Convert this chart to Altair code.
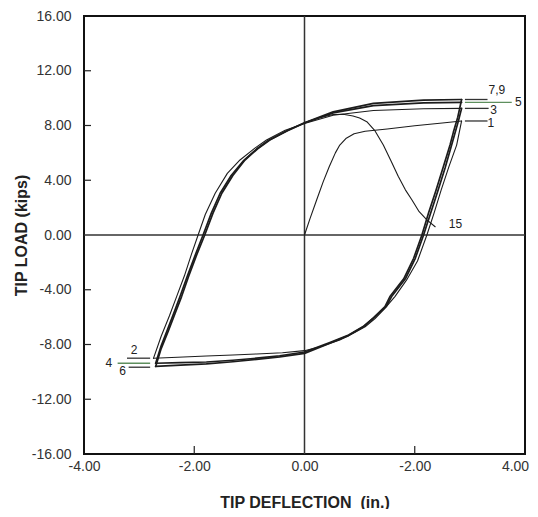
import altair as alt
import pandas as pd

# ---------------- data ----------------
# half-cycle 1 (first push, positive)
c1_x = [0.0, 0.1, 0.22, 0.34, 0.45, 0.56, 0.64, 0.75, 0.9, 1.1, 1.5, 2.0, 2.5, 2.85]
c1_y = [0.0, 1.2, 2.56, 3.9, 5.0, 6.0, 6.57, 7.05, 7.4, 7.58, 7.75, 7.98, 8.18, 8.33]
# half-cycle 2 (negative, outer thin)
c2_x = [2.85, 2.76, 2.62, 2.48, 2.35, 2.22, 2.05, 1.85, 1.64, 1.45, 1.28, 1.1, 0.9, 0.64, 0.3, 0.0,
        -0.4, -0.87, -1.3, -1.78, -2.3, -2.74]
c2_y = [8.33, 6.57, 5.0, 3.3, 1.6, 0.0, -1.9, -3.3, -4.5, -5.4, -6.1, -6.7, -7.15, -7.67, -8.15, -8.45,
        -8.6, -8.69, -8.77, -8.84, -8.93, -9.01]
# half-cycle 3 (positive, outer thin)
c3_x = [-2.74, -2.6, -2.45, -2.32, -2.18, -2.05, -1.93, -1.8, -1.62, -1.4, -1.17, -0.9, -0.69, -0.35,
        0.0, 0.52, 1.25, 2.16, 2.85]
c3_y = [-9.01, -7.4, -5.9, -4.5, -3.0, -1.4, 0.0, 1.5, 3.05, 4.5, 5.48, 6.35, 6.94, 7.65,
        8.15, 8.75, 9.1, 9.22, 9.25]
# half-cycle 4 (negative)
c4_x = [2.85, 2.79, 2.72, 2.66, 2.55, 2.41, 2.28, 2.16, 2.01, 1.83, 1.58, 1.48, 1.27, 1.08, 0.8, 0.46,
        0.0, -0.45, -0.87, -1.3, -1.78, -2.25, -2.70]
c4_y = [9.25, 8.3, 7.3, 6.45, 4.9, 3.1, 1.5, 0.0, -1.7, -3.2, -4.5, -5.24, -6.0, -6.65, -7.3, -7.85,
        -8.55, -8.82, -9.0, -9.15, -9.28, -9.33, -9.37]
# half-cycle 5 (positive)
c5_x = [-2.70, -2.6, -2.48, -2.36, -2.25, -2.12, -1.98, -1.84, -1.69, -1.53, -1.33, -1.1, -0.87, -0.65,
        -0.31, 0.0, 0.52, 1.25, 2.16, 2.85]
c5_y = [-9.37, -8.1, -6.85, -5.6, -4.4, -2.95, -1.45, 0.0, 1.6, 3.05, 4.35, 5.45, 6.28, 6.92,
        7.62, 8.18, 8.92, 9.45, 9.65, 9.69]
# half-cycles 6, 8 (negative)
c6_x = [2.85, 2.78, 2.7, 2.64, 2.52, 2.38, 2.25, 2.13, 1.98, 1.8, 1.55, 1.46, 1.25, 1.07, 0.8, 0.46,
        0.0, -0.45, -0.87, -1.3, -1.78, -2.25, -2.70]
c6_y = [9.9, 8.6, 7.5, 6.57, 5.0, 3.2, 1.6, 0.0, -1.7, -3.2, -4.5, -5.24, -6.05, -6.7, -7.35, -7.91,
        -8.65, -8.9, -9.08, -9.26, -9.42, -9.5, -9.6]
# half-cycles 7, 9 (positive)
c7_x = [-2.70, -2.6, -2.47, -2.35, -2.23, -2.1, -1.96, -1.81, -1.66, -1.5, -1.3, -1.08, -0.85, -0.63,
        -0.3, 0.0, 0.52, 1.25, 2.16, 2.85]
c7_y = [-9.6, -8.3, -7.0, -5.75, -4.5, -3.0, -1.5, 0.0, 1.6, 3.05, 4.35, 5.48, 6.3, 6.94,
        7.65, 8.2, 9.0, 9.62, 9.86, 9.9]
# half-cycle 15 (degrading)
c15_x = [0.0, 0.25, 0.52, 0.7, 0.88, 1.0, 1.13, 1.28, 1.43, 1.57, 1.7, 1.83, 1.95, 2.08, 2.22, 2.37]
c15_y = [8.2, 8.55, 8.8, 8.82, 8.7, 8.55, 8.28, 7.6, 6.57, 5.4, 4.3, 3.3, 2.56, 1.7, 1.1, 0.6]

series_names = ["1", "2", "3", "4", "5", "6", "7", "15"]
series_x = [c1_x, c2_x, c3_x, c4_x, c5_x, c6_x, c7_x, c15_x]
series_y = [c1_y, c2_y, c3_y, c4_y, c5_y, c6_y, c7_y, c15_y]
series_w = [1.1, 1.1, 1.1, 1.7, 1.7, 1.7, 1.7, 1.1]

# peak label leader lines and texts
lab_x1 = [2.91, 2.91, 2.91, 2.91, -3.22, -3.39, -3.19]
lab_x2 = [3.32, 3.76, 3.34, 3.32, -2.80, -2.80, -2.80]
lab_y = [9.9, 9.69, 9.25, 8.33, -9.0, -9.37, -9.66]
lab_col = ["#333333", "#5e8f5e", "#333333", "#333333", "#333333", "#5e8f5e", "#333333"]
txt = ["7,9", "5", "3", "1", "2", "4", "6", "15"]
txt_x = [3.49, 3.88, 3.43, 3.38, -3.09, -3.55, -3.30, 2.74]
txt_y = [10.6, 9.69, 9.1, 8.2, -8.39, -9.36, -9.97, 0.8]

x_ticks = [-4, -2, 0, 2, 4]
y_ticks = [-16, -12, -8, -4, 0, 4, 8, 12, 16]
x_inner = [-2, 2]
y_inner = [-12, -8, -4, 4, 8, 12]

# ---------------- tables ----------------
rows = []
for name, xs, ys, w in zip(series_names, series_x, series_y, series_w):
    for i, (a, b) in enumerate(zip(xs, ys)):
        rows.append({"s": name, "i": i, "x": a, "y": b, "w": w})
df = pd.DataFrame(rows)
lab_df = pd.DataFrame({"x": lab_x1, "x2": lab_x2, "y": lab_y, "c": lab_col})
txt_df = pd.DataFrame({"t": txt, "x": txt_x, "y": txt_y})

FONT = "Liberation Sans"
W, H = 441, 438

xscale = alt.Scale(domain=[-4, 4], nice=False, zero=False)
yscale = alt.Scale(domain=[-16, 16], nice=False, zero=False)
xaxis = alt.Axis(values=x_ticks,
                 labelExpr="datum.value == 2 ? '-2.00' : (datum.value < 0 ? '-' : '') + format(abs(datum.value), '.2f')",
                 labelOffset={"condition": {"test": "datum.value == 4", "value": -10}, "value": 0},
                 title="TIP DEFLECTION\u00a0 (in.)", grid=False, domain=False, ticks=False, tickSize=0,
                 labelPadding=5, labelFontSize=14, labelColor="#333333", labelFont=FONT,
                 labelFlush=False, labelOverlap=False,
                 titleFont=FONT, titleFontSize=16, titleFontWeight="bold", titleColor="#222222",
                 titleY=48, titleBaseline="middle")
yaxis = alt.Axis(values=y_ticks,
                 labelExpr="(datum.value < 0 ? '-' : '') + format(abs(datum.value), '.2f')",
                 title="TIP LOAD (kips)", grid=False, domain=False, ticks=False, tickSize=0,
                 labelPadding=13, labelFontSize=14, labelColor="#333333", labelFont=FONT,
                 labelFlush=False, labelOverlap=False,
                 titleFont=FONT, titleFontSize=16, titleFontWeight="bold", titleColor="#222222",
                 titleX=-63, titleY=H / 2, titleBaseline="middle")

X = lambda f="x": alt.X(f"{f}:Q", scale=xscale, axis=xaxis)
Y = lambda f="y": alt.Y(f"{f}:Q", scale=yscale, axis=yaxis)

cross_v = alt.Chart(pd.DataFrame({"x": [0]})).mark_rule(color="#333333", strokeWidth=1.5).encode(x=X())
cross_h = alt.Chart(pd.DataFrame({"y": [0]})).mark_rule(color="#333333", strokeWidth=1.5).encode(y=Y())

yt = alt.Chart(pd.DataFrame({"y": y_inner})).mark_rule(color="#222222", strokeWidth=1.2).encode(
    y=Y(), x=alt.value(0), x2=alt.value(7))
xt = alt.Chart(pd.DataFrame({"x": x_inner})).mark_rule(color="#222222", strokeWidth=1.2).encode(
    x=X(), y=alt.value(H), y2=alt.value(H - 8))

lines = alt.Chart(df).mark_line(color="#1c1c1c", strokeJoin="round", strokeCap="round").encode(
    x=X(), y=Y(), detail="s:N", order="i:Q",
    strokeWidth=alt.StrokeWidth("w:Q", scale=None),
)

leaders = alt.Chart(lab_df).mark_rule(strokeWidth=1.3).encode(
    x=X(), x2="x2:Q", y=Y(), color=alt.Color("c:N", scale=None))

texts = alt.Chart(txt_df).mark_text(font=FONT, fontSize=12, color="#222222", align="center",
                                    baseline="middle").encode(x=X(), y=Y(), text="t:N")

chart = alt.layer(cross_v, cross_h, yt, xt, lines, leaders, texts).properties(
    width=W, height=H,
    autosize=alt.AutoSizeParams(type="none"),
    padding={"left": 76, "top": 8, "right": 5, "bottom": 55},
    background="white",
).configure_view(stroke="#111111", strokeWidth=2)

chart.save("out.html", embed_options={"renderer": "svg", "actions": False})
